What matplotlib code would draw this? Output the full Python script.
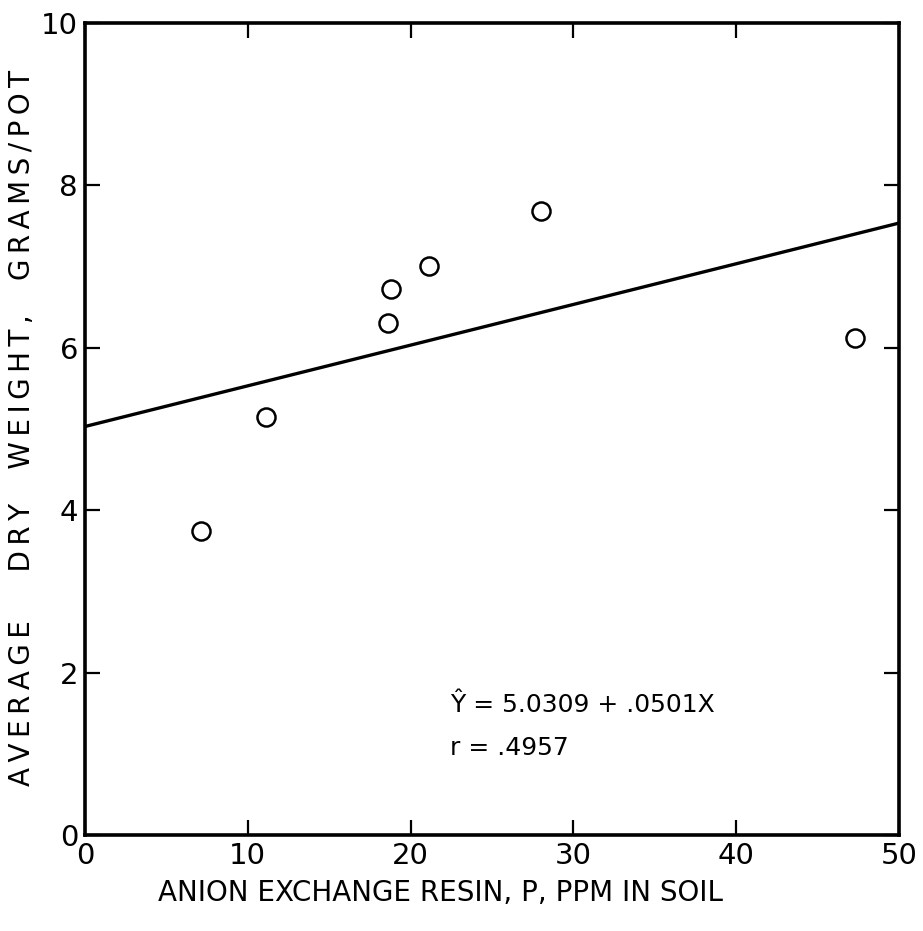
import matplotlib.pyplot as plt
import numpy as np

# resin P (ppm) vs average dry weight (g/pot)
resin_p = [7.1, 11.1, 18.6, 18.8, 21.1, 28.0, 47.3]
dry_weight = [3.74, 5.15, 6.30, 6.72, 7.01, 7.68, 6.12]

# fitted regression
intercept = 5.0309
slope = 0.0501
r_value = 0.4957

x_ticks = [0, 10, 20, 30, 40, 50]
y_ticks = [0, 2, 4, 6, 8, 10]

plt.rcParams['font.family'] = ['DejaVu Sans']


def spaced(s):
    # open up the lettering a bit with thin spaces
    return '\u2009'.join(s)


fig = plt.figure(figsize=(9.23, 9.31), dpi=100)
ax = fig.add_axes([0.0921, 0.1031, 0.8819, 0.8722])

line_x = np.array([0, 50])
ax.plot(line_x, intercept + slope * line_x, color='black', lw=2.4)
ax.plot(resin_p, dry_weight, 'o', ms=13, mfc='white', mec='black', mew=1.8)

ax.set_xlim(0, 50)
ax.set_ylim(0, 10)
ax.set_xticks(x_ticks)
ax.set_yticks(y_ticks)
ax.tick_params(direction='in', length=11, width=1.6, top=True, right=True,
               labelsize=21, pad=5)
for s in ax.spines.values():
    s.set_linewidth(2.6)

fig.text(0.477, 0.041, 'ANION EXCHANGE RESIN, P, PPM IN SOIL',
         fontsize=20, ha='center', va='center')
fig.text(0.024, 0.540, spaced('AVERAGE   DRY  WEIGHT,  GRAMS/POT'),
         fontsize=20, ha='center', va='center', rotation=90)

ax.text(22.4, 1.51, 'Ŷ = 5.0309 + .0501X', fontsize=18)
ax.text(22.4, 0.98, f'r = {r_value:.4f}'.replace('0.', '.'), fontsize=18)

fig.savefig('out.png')
